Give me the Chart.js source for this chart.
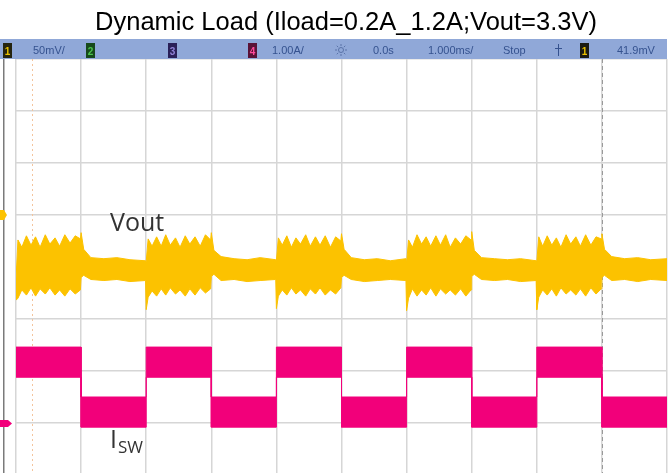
<!DOCTYPE html>
<html><head><meta charset="utf-8">
<script src="https://cdn.jsdelivr.net/npm/chart.js@4.4.1/dist/chart.umd.min.js"></script>
<style>
html,body{margin:0;padding:0;background:#fff;overflow:hidden;width:672px;height:473px}
#wrap{position:absolute;left:0;top:0;width:672px;height:480px}
</style></head><body>
<div id="wrap"><canvas id="c"></canvas></div>
<script>
// ---------- text ----------
const chartTitle = "Dynamic Load (Iload=0.2A_1.2A;Vout=3.3V)";
const statusTexts = ["50mV/", "1.00A/", "0.0s", "1.000ms/", "Stop", "41.9mV"];
const channelNames = ["1", "2", "3", "4"];
const voutLabel = "Vout";
const iswLabel = "I";
const iswSub = "SW";

// ---------- axes (scope divisions) ----------
const timeRangeMs = [0, 10];          // 1.000 ms/div, 10 divisions
const voutRangeMv = [-250, 150];      // 50 mV/div, 8 divisions
const iswRangeA = [-1, 7];            // 1.00 A/div, 8 divisions

// ---------- Isw trace (envelope of the switching-current band) ----------
const iswTimeMs = [0, 1, 1, 2, 2, 3, 3, 4, 4, 5, 5, 6, 6, 7, 7, 8, 8, 9, 9, 10];
const iswTopA   = [1.46, 1.46, 0.50, 0.50, 1.46, 1.46, 0.50, 0.50, 1.46, 1.46, 0.50, 0.50, 1.46, 1.46, 0.50, 0.50, 1.46, 1.46, 0.50, 0.50];
const iswBotA   = [0.88, 0.88, -0.08, -0.08, 0.88, 0.88, -0.08, -0.08, 0.88, 0.88, -0.08, -0.08, 0.88, 0.88, -0.08, -0.08, 0.88, 0.88, -0.08, -0.08];

// ---------- Vout trace (envelope of the ripple band, mV) ----------
const voutTimeMs = [
  0.00,0.03,0.09,0.16,0.23,0.30,0.37,0.45,0.52,0.60,0.67,0.75,0.83,0.91,0.99,1.00,1.04,1.15,1.35,1.55,1.75,1.99,
  2.00,2.03,2.09,2.16,2.23,2.30,2.37,2.45,2.52,2.60,2.67,2.75,2.83,2.91,2.99,3.00,3.04,3.15,3.35,3.55,3.75,3.99,
  4.00,4.03,4.09,4.16,4.23,4.30,4.37,4.45,4.52,4.60,4.67,4.75,4.83,4.91,4.99,5.00,5.04,5.15,5.35,5.55,5.75,5.99,
  6.00,6.03,6.09,6.16,6.23,6.30,6.37,6.45,6.52,6.60,6.67,6.75,6.83,6.91,6.99,7.00,7.04,7.15,7.35,7.55,7.75,7.99,
  8.00,8.03,8.09,8.16,8.23,8.30,8.37,8.45,8.52,8.60,8.67,8.75,8.83,8.91,8.99,9.00,9.04,9.15,9.35,9.55,9.75,10.00
];
const voutTopMv = [
  -62,-24,-31,-20,-29,-21,-31,-19,-28,-22,-30,-19,-27,-20,-23,-17,-33,-41,-42,-41,-43,-44,
  -45,-23,-30,-21,-30,-19,-29,-22,-31,-20,-28,-21,-30,-19,-24,-17,-34,-40,-42,-43,-41,-43,
  -44,-22,-29,-20,-31,-22,-28,-19,-30,-21,-29,-20,-31,-21,-25,-18,-33,-41,-43,-42,-44,-42,
  -46,-24,-31,-19,-28,-21,-30,-20,-29,-19,-31,-22,-28,-20,-24,-16,-34,-41,-42,-43,-42,-44,
  -45,-21,-30,-20,-29,-22,-31,-19,-28,-21,-30,-19,-29,-21,-23,-18,-33,-40,-42,-41,-43,-42
];
const voutBotMv = [
  -82,-80,-72,-77,-70,-78,-71,-76,-70,-77,-72,-78,-71,-76,-72,-60,-58,-62,-63,-62,-64,-63,
  -91,-79,-73,-78,-71,-77,-70,-76,-72,-78,-71,-77,-70,-75,-71,-59,-57,-63,-62,-64,-63,-62,
  -90,-78,-72,-77,-70,-76,-72,-78,-71,-76,-70,-77,-72,-76,-70,-60,-58,-62,-64,-63,-62,-63,
  -92,-80,-71,-78,-72,-77,-70,-78,-71,-76,-72,-77,-71,-78,-72,-59,-57,-62,-63,-62,-64,-63,
  -91,-79,-72,-77,-71,-78,-70,-76,-72,-77,-71,-78,-70,-76,-71,-60,-58,-63,-62,-64,-62,-63
];

// cursors (time, ms)
const cursorOrangeMs = 0.25;
const cursorGreyMs = 9;

const YELLOW = '#fcc200';
const PINK = '#f2007a';

const pts = (xs, ys) => xs.map((x, i) => ({x, y: ys[i]}));

const scopeDecor = {
  id: 'scopeDecor',
  beforeDraw(chart) {
    const ctx = chart.ctx;
    ctx.save();
    ctx.fillStyle = '#ffffff';
    ctx.fillRect(0, 0, chart.width, chart.height);
    ctx.restore();
  },
  beforeDatasetsDraw(chart) {
    const ctx = chart.ctx, a = chart.chartArea, xs = chart.scales.x;
    ctx.save();
    let cx = Math.round(xs.getPixelForValue(cursorOrangeMs)) + 0.5;
    ctx.strokeStyle = '#f4c49c';
    ctx.lineWidth = 1;
    ctx.setLineDash([2, 3]);
    ctx.beginPath(); ctx.moveTo(cx, a.top); ctx.lineTo(cx, a.bottom); ctx.stroke();
    cx = Math.round(xs.getPixelForValue(cursorGreyMs)) + 0.5;
    ctx.strokeStyle = '#9a9a9a';
    ctx.setLineDash([4, 3]);
    ctx.beginPath(); ctx.moveTo(cx, a.top); ctx.lineTo(cx, a.bottom); ctx.stroke();
    ctx.restore();
  },
  afterDraw(chart) {
    const ctx = chart.ctx, a = chart.chartArea;
    ctx.save();
    ctx.fillStyle = '#7a7a7a';
    ctx.fillRect(3, a.top, 1.5, chart.height - a.top);

    // title
    ctx.fillStyle = '#000';
    ctx.font = '25.5px "Liberation Sans", Arial, sans-serif';
    ctx.textAlign = 'center';
    ctx.textBaseline = 'alphabetic';
    ctx.fillText(chartTitle, 346, 30);

    // status bar
    ctx.fillStyle = '#90a8d8';
    ctx.fillRect(0, 39, 667, 20);
    const box = (x, bg, fg, t) => {
      ctx.fillStyle = bg; ctx.fillRect(x, 43, 9, 15);
      ctx.fillStyle = fg; ctx.font = 'bold 10px "Liberation Sans", sans-serif';
      ctx.textAlign = 'center'; ctx.fillText(t, x + 4.5, 54.5);
    };
    box(3, '#25240f', '#e8c000', channelNames[0]);
    box(86, '#174a1a', '#4cc54c', channelNames[1]);
    box(168, '#2a2058', '#9284d8', channelNames[2]);
    box(248, '#5a1236', '#ff4b9c', channelNames[3]);
    box(580, '#1a1a12', '#e8c000', channelNames[0]);
    ctx.fillStyle = '#35528f';
    ctx.font = '11px "Liberation Sans", Arial, sans-serif';
    ctx.textAlign = 'left';
    const tx = [33, 272, 373, 428, 503, 617];
    statusTexts.forEach((t, i) => ctx.fillText(t, tx[i], 54));
    ctx.strokeStyle = '#5a73a8'; ctx.lineWidth = 1;
    ctx.beginPath(); ctx.arc(341, 50, 2.5, 0, Math.PI * 2); ctx.stroke();
    for (let k = 0; k < 8; k++) {
      const an = k * Math.PI / 4;
      ctx.beginPath();
      ctx.moveTo(341 + Math.cos(an) * 4, 50 + Math.sin(an) * 4);
      ctx.lineTo(341 + Math.cos(an) * 6, 50 + Math.sin(an) * 6);
      ctx.stroke();
    }
    ctx.strokeStyle = '#35528f';
    ctx.beginPath(); ctx.moveTo(555, 48.5); ctx.lineTo(562, 48.5);
    ctx.moveTo(558.5, 44); ctx.lineTo(558.5, 56); ctx.stroke();

    // ground markers
    ctx.fillStyle = YELLOW;
    ctx.beginPath(); ctx.moveTo(0, 210); ctx.lineTo(4, 210); ctx.lineTo(7, 215); ctx.lineTo(4, 220); ctx.lineTo(0, 220); ctx.closePath(); ctx.fill();
    ctx.fillStyle = PINK;
    ctx.beginPath(); ctx.moveTo(0, 420); ctx.lineTo(8, 420); ctx.lineTo(12, 423.5); ctx.lineTo(8, 427); ctx.lineTo(0, 427); ctx.closePath(); ctx.fill();

    // trace labels
    ctx.fillStyle = '#333333';
    ctx.textAlign = 'left';
    ctx.font = '25px "Open Sans", "Liberation Sans", sans-serif';
    ctx.fillText(voutLabel, 110, 231);
    ctx.fillText(iswLabel, 110, 448);
    ctx.font = '17px "Open Sans", "Liberation Sans", sans-serif';
    ctx.fillText(iswSub, 118, 453);
    ctx.restore();
  }
};

const gridCfg = {color: '#d6d6d6', lineWidth: 1.5, drawTicks: false};

new Chart(document.getElementById('c'), {
  type: 'line',
  data: {
    datasets: [
      {data: pts(voutTimeMs, voutTopMv), yAxisID: 'yV', borderColor: YELLOW, backgroundColor: YELLOW, borderWidth: 1, pointRadius: 0, fill: '+1', tension: 0},
      {data: pts(voutTimeMs, voutBotMv), yAxisID: 'yV', borderColor: YELLOW, backgroundColor: YELLOW, borderWidth: 1, pointRadius: 0, fill: false, tension: 0},
      {data: pts(iswTimeMs, iswTopA), yAxisID: 'yI', borderColor: PINK, backgroundColor: PINK, borderWidth: 1, pointRadius: 0, fill: '+1', tension: 0},
      {data: pts(iswTimeMs, iswBotA), yAxisID: 'yI', borderColor: PINK, backgroundColor: PINK, borderWidth: 1, pointRadius: 0, fill: false, tension: 0}
    ]
  },
  options: {
    responsive: true,
    maintainAspectRatio: false,
    animation: false,
    devicePixelRatio: 1,
    layout: {autoPadding: false, padding: {left: 16, right: 5, top: 59, bottom: 5}},
    plugins: {legend: {display: false}, title: {display: false}, tooltip: {enabled: false}},
    scales: {
      x: {type: 'linear', min: timeRangeMs[0], max: timeRangeMs[1],
          ticks: {display: false, stepSize: 1}, grid: gridCfg, border: {display: false}},
      yV: {type: 'linear', position: 'left', min: voutRangeMv[0], max: voutRangeMv[1],
          ticks: {display: false, stepSize: 50}, grid: gridCfg, border: {display: false}},
      yI: {type: 'linear', position: 'right', min: iswRangeA[0], max: iswRangeA[1], display: false}
    }
  },
  plugins: [scopeDecor]
});
</script>
</body></html>
